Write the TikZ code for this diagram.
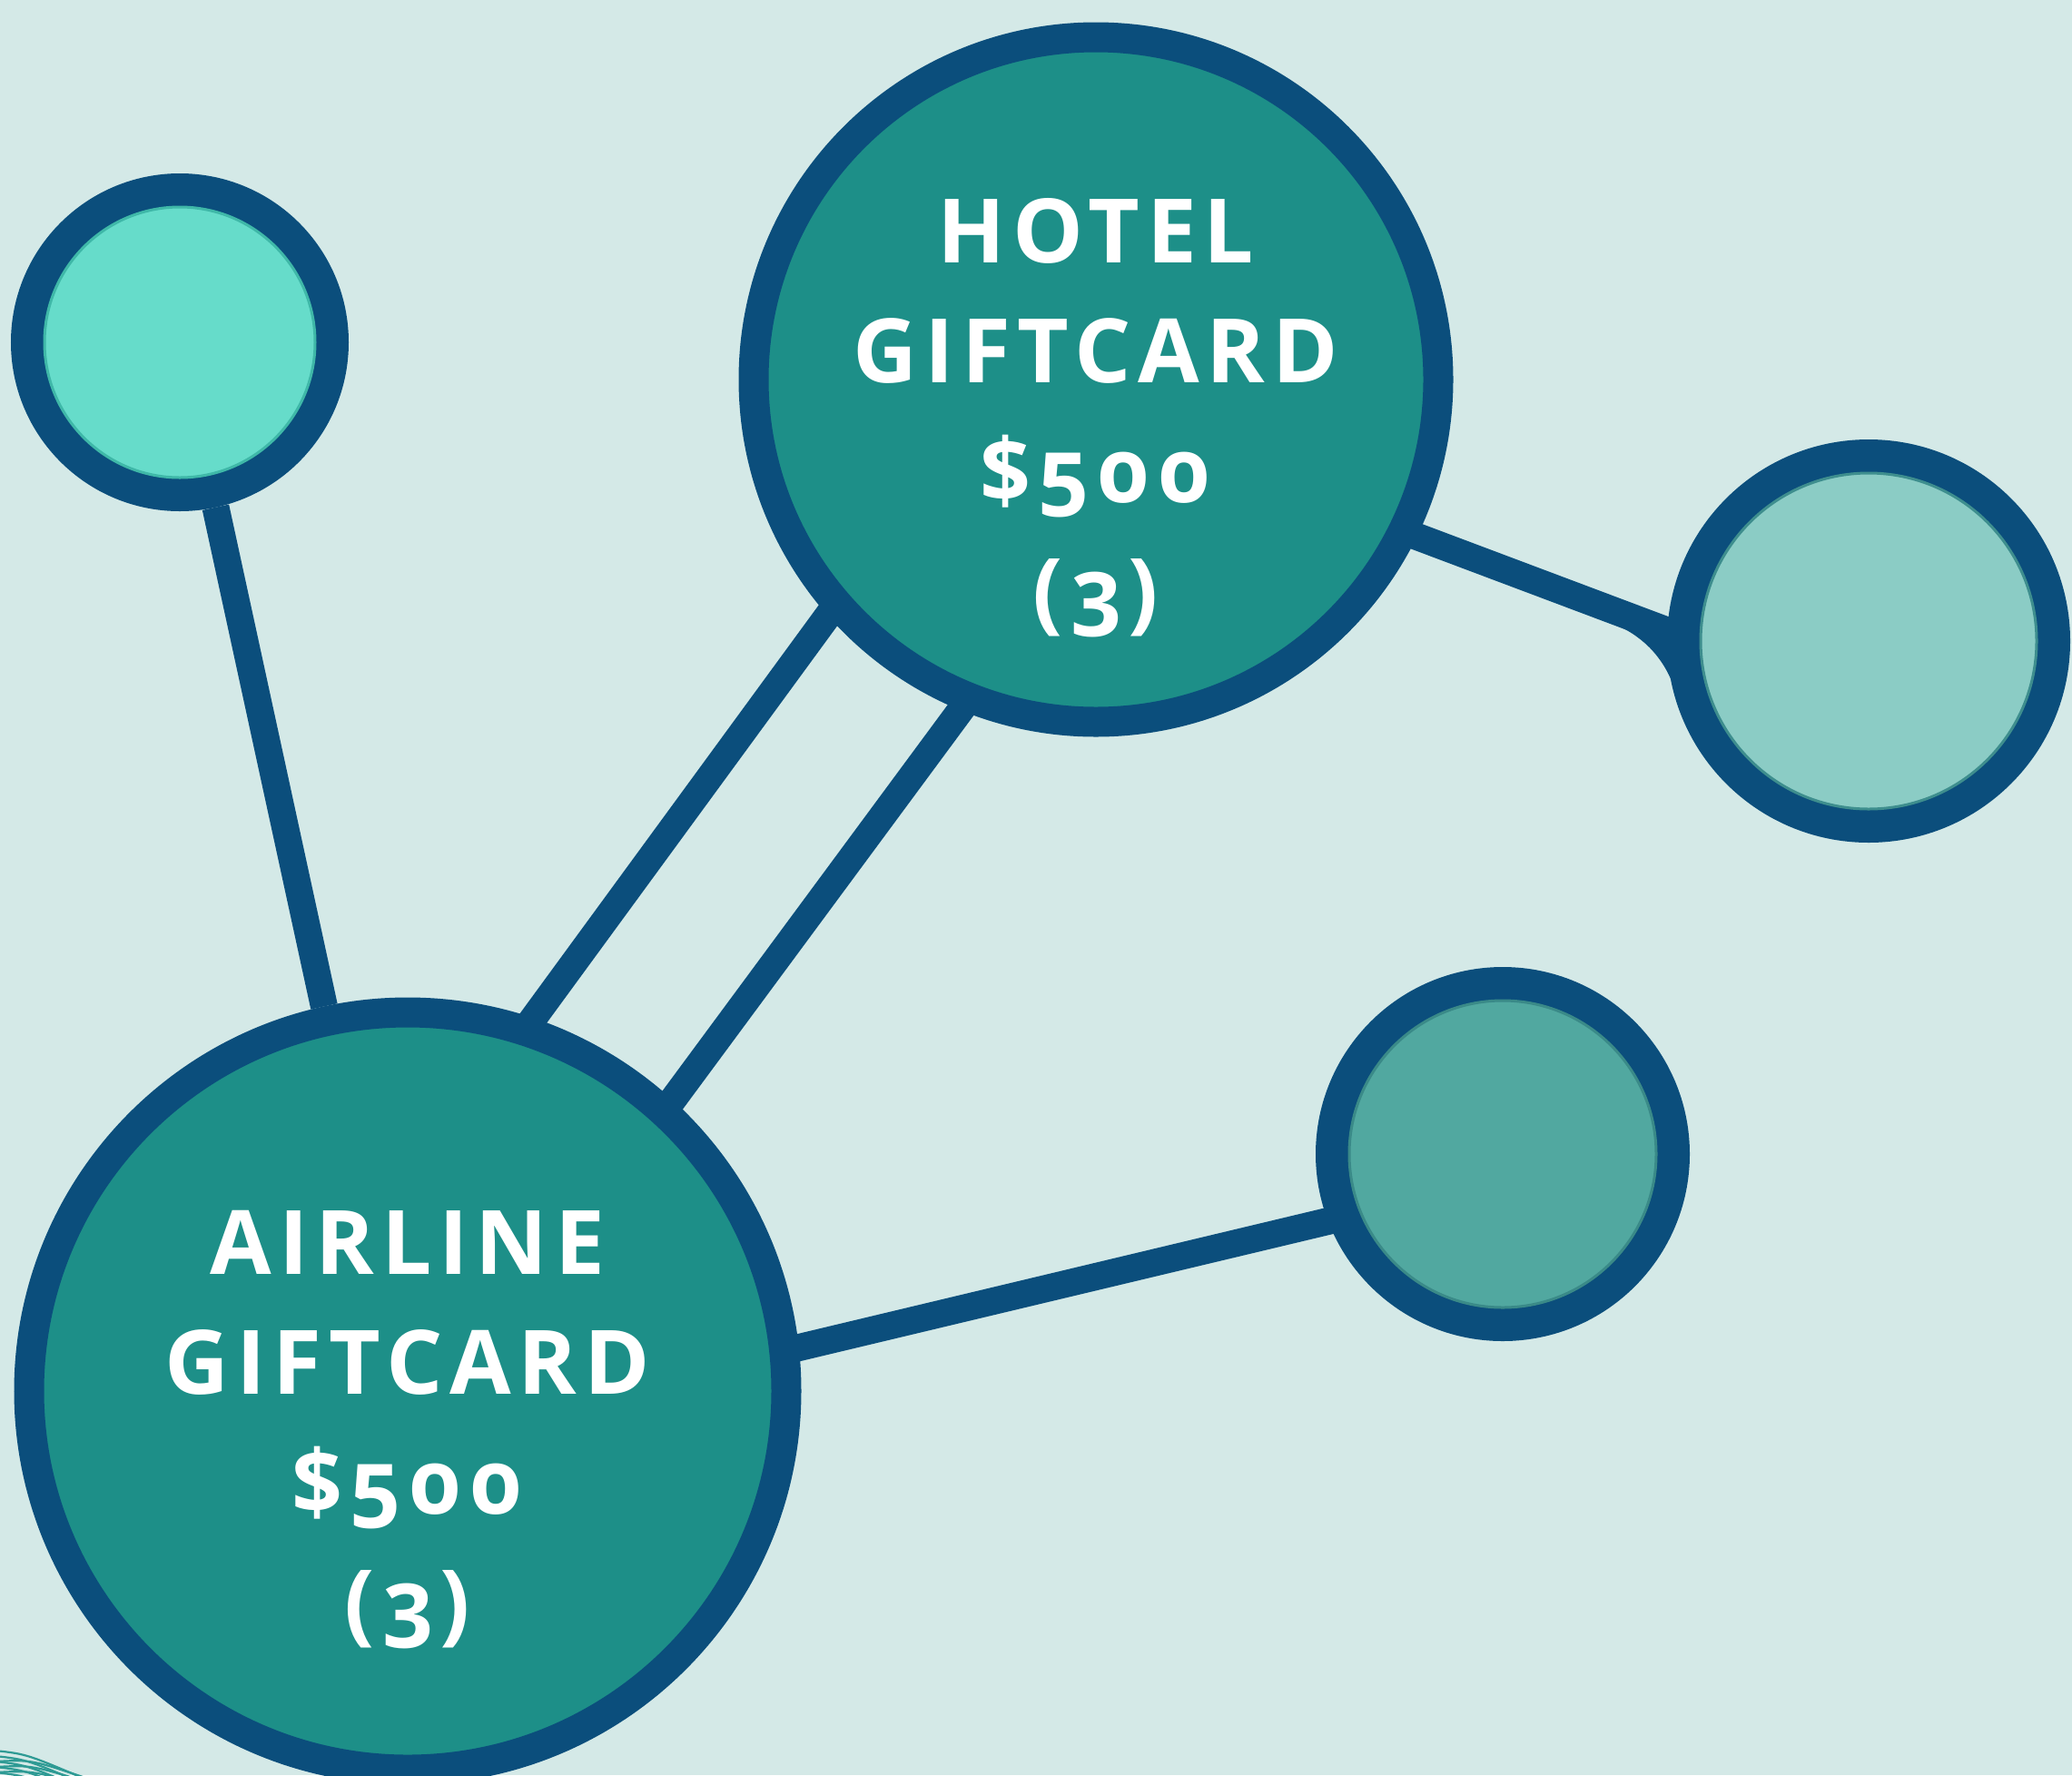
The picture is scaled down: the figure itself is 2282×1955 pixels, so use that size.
\documentclass[tikz,border=0pt]{standalone}
\usepackage{fontspec}
\newfontfamily\cardfont{Open Sans}[Numbers=OldStyle, LetterSpace=8]
\usetikzlibrary{calc}

\definecolor{bgc}{HTML}{D4E9E7}
\definecolor{navy}{HTML}{0B4E7C}
\definecolor{teal}{HTML}{1D8F88}
\definecolor{mint}{HTML}{66DCCA}
\definecolor{mintrim}{HTML}{3FB8A8}
\definecolor{seafoam}{HTML}{8BCCC5}
\definecolor{seafoamrim}{HTML}{3E8E8E}
\definecolor{jade}{HTML}{51A8A0}
\definecolor{jaderim}{HTML}{3A8A88}
\definecolor{meshc}{HTML}{2E9A94}

\pgfdeclarelayer{back}
\pgfdeclarelayer{edges}
\pgfsetlayers{back,edges,main}

\tikzset{
  bignode/.style={circle, draw=navy, fill=teal, line width=33pt, inner sep=0pt},
  smallnode/.style={circle, draw=navy, line width=37pt, inner sep=0pt},
  rim/.style={line width=3pt},
  link/.style={draw=navy, line width=30pt},
  cardtext/.style={text=white, align=center, inner sep=0pt,
    font={\cardfont\bfseries\fontsize{98}{132}\selectfont}},
  mesh/.style={draw=meshc, line width=2.2pt}
}

\begin{document}
\begin{tikzpicture}[x=1pt, y=-1pt]
  \useasboundingbox (0,0) rectangle (2282,1955);
  \begin{pgfonlayer}{back}
    \fill[bgc] (0,0) rectangle (2282,1955);
  \end{pgfonlayer}

  % hubs
  \node[bignode, minimum size=754pt] (hotel) at (1207,418) {};
  \node[bignode, minimum size=834pt] (air) at (449,1532) {};

  % satellites, each with a thin darker rim inside the border
  \node[smallnode, fill=mint, minimum size=335pt] (tl) at (198,377) {};
  \draw[rim, mintrim] (tl.center) circle[radius=149pt];
  \node[smallnode, fill=seafoam, minimum size=407pt] (rc) at (2058,706) {};
  \draw[rim, seafoamrim] (rc.center) circle[radius=185pt];
  \node[smallnode, fill=jade, minimum size=375pt] (lr) at (1655,1271) {};
  \draw[rim, jaderim] (lr.center) circle[radius=169pt];

  % labels
  \node[cardtext] (hotelt) at (1207,460) {HOTEL\\GIFTCARD\\\$500\\(3)};
  \node[cardtext] (airt) at (449,1575) {AIRLINE\\GIFTCARD\\\$500\\(3)};

  % connectors behind the circles
  \begin{pgfonlayer}{edges}
    \draw[link] (tl) -- (air);
    \draw[link] ($(hotel)+(-105,0)$) -- ($(air)+(-162,0)$);
    \draw[link] ($(hotel)+(120,0)$) -- ($(air)+(55,0)$);
    \draw[link] ($(hotel)+(0,40)$) -- ($(rc)+(0,72)$);
    \draw[link] ($(air)+(0,55)$) -- ($(lr)+(0,28)$);
    % rounded joint where the hotel link meets the right circle
    \fill[navy] ($(rc)+(-288,-22)$) .. controls ($(rc)+(-248,-7)$) and ($(rc)+(-222,20)$)
      .. ($(rc)+(-210,64)$) -- ($(rc)+(-160,14)$) -- ($(rc)+(-210,-20)$) -- cycle;
  \end{pgfonlayer}

  % net fragment in the lower left corner
  \begin{scope}
    \clip (0,1920) rectangle (110,1955);
    \foreach \k in {0,1,2,3,4} {
      \draw[mesh] (-5,1928+6*\k) .. controls (30,1932+6*\k) .. (100,1962+6*\k);
      \draw[mesh] (-5,1940+6*\k) .. controls (35,1938+6*\k) .. (100,1960+4*\k);
    }
  \end{scope}
\end{tikzpicture}
\end{document}
